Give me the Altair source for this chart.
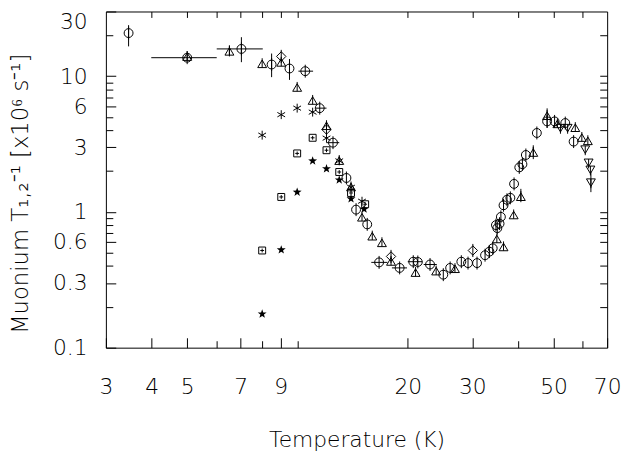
import altair as alt
import pandas as pd

# ---- data (Temperature K, rate 1e6 s^-1) ----
circ_T = [3.46, 5.00, 7.03, 8.50, 9.51, 10.5, 11.5, 12.5, 13.6, 14.45, 15.5, 16.7, 19.0, 20.7, 21.3,
          23.0, 25.0, 26.1, 28.0, 29.2, 30.9, 32.5, 33.4, 34.1, 34.8, 35.1, 35.6, 35.9, 36.5, 37.3,
          38.1, 39.0, 40.3, 41.1, 42.0, 45.0, 48.0, 50.3, 53.8, 56.7]
circ_R = [20.8, 13.7, 15.9, 12.2, 11.4, 10.9, 5.82, 3.24, 1.78, 1.04, 0.81, 0.425, 0.387, 0.43, 0.428,
          0.41, 0.345, 0.387, 0.43, 0.42, 0.42, 0.48, 0.51, 0.54, 0.80, 0.76, 0.82, 0.92, 1.12, 1.23,
          1.27, 1.61, 2.13, 2.25, 2.63, 3.82, 4.65, 4.65, 4.52, 3.3]

tri_T = [5.00, 6.52, 8.01, 9.03, 9.98, 11.0, 12.0, 13.0, 14.0, 15.0, 16.0, 17.0, 18.0, 21.0, 23.9,
         26.9, 35.0, 36.5, 38.9, 40.7, 44.0, 48.0, 51.2, 57.3, 59.7, 62.0]
tri_R = [13.9, 15.2, 12.3, 12.6, 8.23, 6.6, 4.3, 2.38, 1.52, 0.91, 0.66, 0.59, 0.43, 0.356, 0.365,
         0.38, 0.63, 0.55, 0.946, 1.29, 2.73, 5.1, 4.44, 4.16, 3.52, 3.33]

dia_T = [9.03, 12.0, 18.0, 30.1]
dia_R = [14.0, 4.05, 0.47, 0.52]

ast_T = [8.01, 9.03, 9.98, 11.0, 12.0, 13.0, 14.0, 15.0]
ast_R = [3.68, 5.21, 5.82, 5.44, 3.5, 2.38, 1.52, 1.20]

box_T = [8.01, 9.03, 9.98, 11.0, 12.0, 13.0, 14.0, 15.3]
box_R = [0.52, 1.29, 2.70, 3.52, 2.85, 1.97, 1.38, 1.14]

star_T = [8.01, 9.03, 9.98, 11.0, 12.0, 13.0, 14.0, 15.2]
star_R = [0.177, 0.526, 1.40, 2.38, 2.08, 1.72, 1.25, 1.05]

dn_T = [52.2, 54.6, 61.0, 62.3, 63.0, 63.2]
dn_R = [4.16, 4.16, 2.89, 2.31, 2.05, 1.65]

# vertical error bars: T, low, high
ev_T = [3.46, 6.52, 7.03, 8.50, 9.51, 40.7, 44.0, 48.0, 63.2]
ev_lo = [16.6, 14.0, 12.7, 9.85, 9.4, 1.18, 2.45, 4.16, 1.40]
ev_hi = [23.8, 16.9, 19.4, 14.7, 13.4, 1.48, 3.1, 5.8, 1.96]

# horizontal error bars: R, low T, high T
eh_R = [13.7, 15.9, 10.9, 5.82, 3.24, 0.425, 0.387, 0.43, 0.41]
eh_lo = [3.99, 6.02, 10.06, 11.2, 12.0, 15.9, 18.1, 20.0, 22.1]
eh_hi = [6.02, 8.04, 11.03, 12.0, 13.0, 17.6, 19.9, 21.9, 24.0]

x_major = [3, 4, 5, 7, 9, 20, 30, 50, 70]
x_minor = [6, 8, 10, 40, 60]
x_top = [4, 5, 6, 7, 8, 9, 10, 20, 30, 40, 50, 60]
y_major = [0.1, 0.3, 0.6, 1, 3, 6, 10, 30]
y_minor = [0.2, 0.4, 0.5, 0.7, 0.8, 0.9, 2, 4, 5, 7, 8, 9, 20]
y_right = [0.2, 0.3, 0.4, 0.5, 0.6, 0.7, 0.8, 0.9, 1, 2, 3, 4, 5, 6, 7, 8, 9, 10, 20]

# ---- styling ----
F = "DejaVu Sans"
FW = 200
FS = 22
XS = alt.Scale(type="log", domain=[3, 70], nice=False)
YS = alt.Scale(type="log", domain=[0.1, 30], nice=False)

CIRC = "M-1,0A1,1,0,1,1,1,0A1,1,0,1,1,-1,0Z M0,-1.45L0,1.45"
TRI_UP = "M-1,0.8L1,0.8L0,-0.9Z M0,-1.3L0,0.8"
TRI_DN = "M-1,-0.8L1,-0.8L0,0.9Z M0,-0.8L0,1.3"
DIA = "M0,-1L1,0L0,1L-1,0Z M0,-1.4L0,1.4"
AST = "M0,-1L0,1 M-0.87,-0.5L0.87,0.5 M-0.87,0.5L0.87,-0.5"
BOX = "M-1,-1L1,-1L1,1L-1,1Z M-0.55,0L0.55,0 M0,-0.55L0,0.55"
STAR = ("M0,-1L0.235,-0.324L0.951,-0.309L0.380,0.124L0.588,0.809L0,0.4L-0.588,0.809"
        "L-0.380,0.124L-0.951,-0.309L-0.235,-0.324Z")


def ax(orient, values, size, labels=False, title=None, **kw):
    d = dict(orient=orient, values=values, tickSize=size, offset=-size, domain=False, grid=False,
             ticks=True, tickColor="black", tickWidth=1, tickOpacity=1, labels=labels, zindex=1)
    if labels:
        d.update(labelFont=F, labelFontSize=FS, labelFontWeight=FW, labelColor="black",
                 labelFlush=False, labelOverlap=False, format="~g", labelBound=False)
    if title:
        d.update(title=title, titleFont=F, titleFontWeight=FW, titleColor="black")
    else:
        d["title"] = None
    d.update(kw)
    return alt.Axis(**d)


def pts(T, R, shape, size, xaxis=None, yaxis=None, filled=False):
    df = pd.DataFrame({"T": T, "R": R})
    return alt.Chart(df).mark_point(shape=shape, size=size, filled=filled, color="black",
                                    strokeWidth=1, opacity=1).encode(
        x=alt.X("T:Q", scale=XS, axis=xaxis),
        y=alt.Y("R:Q", scale=YS, axis=yaxis),
    )


c_circ = pts(circ_T, circ_R, CIRC, 81,
             ax("bottom", x_major, 10, labels=True, title="Temperature (K)",
                titleFontSize=22, labelPadding=29, titlePadding=33),
             ax("left", y_major, 10, labels=True,
                title="Muonium T\u2081,\u2082\u207b\u00b9  [x10\u2076 s\u207b\u00b9]",
                titleFontSize=23, labelPadding=19, titlePadding=20,
                titleY=184, titleAlign="center", titleAnchor="middle",
                labelBaseline={"condition": {"test": "datum.value > 20", "value": "top"}, "value": "middle"}))
c_tri = pts(tri_T, tri_R, TRI_UP, 81, ax("bottom", x_minor, 7), ax("left", y_minor, 7))
c_dia = pts(dia_T, dia_R, DIA, 90, ax("top", x_top, 6), ax("right", y_right, 7.5))
c_ast = pts(ast_T, ast_R, AST, 81)
c_box = pts(box_T, box_R, BOX, 49)
c_star = pts(star_T, star_R, STAR, 90, filled=True)
c_dn = pts(dn_T, dn_R, TRI_DN, 81)

ev = pd.DataFrame({"T": ev_T, "lo": ev_lo, "hi": ev_hi})
c_ev = alt.Chart(ev).mark_rule(color="black", strokeWidth=1).encode(
    x=alt.X("T:Q", scale=XS, axis=None),
    y=alt.Y("lo:Q", scale=YS, axis=None),
    y2="hi:Q",
)
eh = pd.DataFrame({"R": eh_R, "lo": eh_lo, "hi": eh_hi})
c_eh = alt.Chart(eh).mark_rule(color="black", strokeWidth=1).encode(
    y=alt.Y("R:Q", scale=YS, axis=None),
    x=alt.X("lo:Q", scale=XS, axis=None),
    x2="hi:Q",
)

chart = alt.layer(c_eh, c_ev, c_circ, c_tri, c_dia, c_ast, c_box, c_star, c_dn).resolve_axis(
    x="independent", y="independent"
).properties(
    width=507, height=340, autosize="none",
    padding={"left": 99, "top": 1, "right": 14, "bottom": 104},
    background="white",
).configure_view(stroke="black", strokeWidth=1)

chart.save("out.html", embed_options={"renderer": "svg", "actions": False})
